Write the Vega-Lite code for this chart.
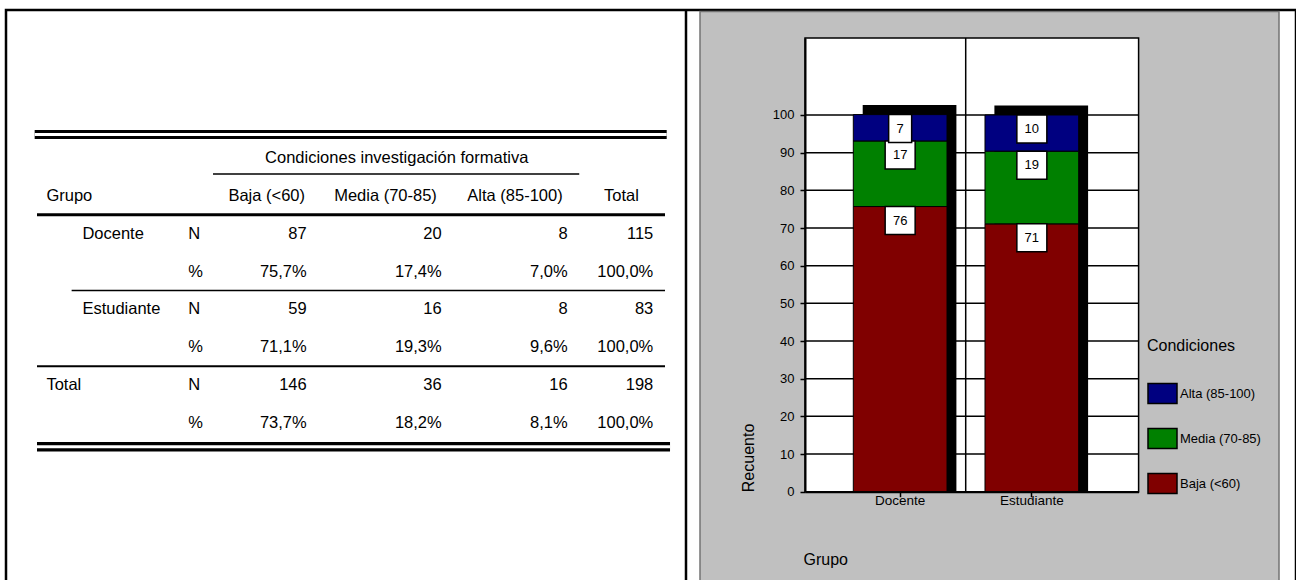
{
  "$schema": "https://vega.github.io/schema/vega-lite/v6.json",
  "background": "white",
  "autosize": {"type": "none"},
  "padding": {"left": 6, "top": 10, "right": 0, "bottom": 0},
  "width": 1290,
  "height": 570,
  "config": {"font": "Liberation Sans", "view": {"stroke": null}},
  "view": {"stroke": "black", "strokeWidth": 2.5, "strokeDash": [1860, 1290, 570]},
  "datasets": {
    "tabla": [
      {"fila": "Encabezado", "columna": "Grupo", "tipo": "etiqueta", "texto": "Grupo"},
      {"fila": "Total N", "columna": "Grupo", "tipo": "etiqueta", "texto": "Total"},
      {"fila": "Docente N", "columna": "Subgrupo", "tipo": "etiqueta", "texto": "Docente"},
      {"fila": "Estudiante N", "columna": "Subgrupo", "tipo": "etiqueta", "texto": "Estudiante"},
      {"fila": "Docente N", "columna": "Estadistico", "tipo": "etiqueta", "texto": "N"},
      {"fila": "Docente %", "columna": "Estadistico", "tipo": "etiqueta", "texto": "%"},
      {"fila": "Estudiante N", "columna": "Estadistico", "tipo": "etiqueta", "texto": "N"},
      {"fila": "Estudiante %", "columna": "Estadistico", "tipo": "etiqueta", "texto": "%"},
      {"fila": "Total N", "columna": "Estadistico", "tipo": "etiqueta", "texto": "N"},
      {"fila": "Total %", "columna": "Estadistico", "tipo": "etiqueta", "texto": "%"},
      {"fila": "Encabezado", "columna": "Baja", "tipo": "encabezado", "texto": "Baja (<60)"},
      {"fila": "Docente N", "columna": "Baja", "tipo": "valor", "texto": "87"},
      {"fila": "Docente %", "columna": "Baja", "tipo": "valor", "texto": "75,7%"},
      {"fila": "Estudiante N", "columna": "Baja", "tipo": "valor", "texto": "59"},
      {"fila": "Estudiante %", "columna": "Baja", "tipo": "valor", "texto": "71,1%"},
      {"fila": "Total N", "columna": "Baja", "tipo": "valor", "texto": "146"},
      {"fila": "Total %", "columna": "Baja", "tipo": "valor", "texto": "73,7%"},
      {"fila": "Condiciones", "columna": "Media", "tipo": "titulo", "texto": "Condiciones investigación formativa"},
      {"fila": "Encabezado", "columna": "Media", "tipo": "encabezado", "texto": "Media (70-85)"},
      {"fila": "Docente N", "columna": "Media", "tipo": "valor", "texto": "20"},
      {"fila": "Docente %", "columna": "Media", "tipo": "valor", "texto": "17,4%"},
      {"fila": "Estudiante N", "columna": "Media", "tipo": "valor", "texto": "16"},
      {"fila": "Estudiante %", "columna": "Media", "tipo": "valor", "texto": "19,3%"},
      {"fila": "Total N", "columna": "Media", "tipo": "valor", "texto": "36"},
      {"fila": "Total %", "columna": "Media", "tipo": "valor", "texto": "18,2%"},
      {"fila": "Encabezado", "columna": "Alta", "tipo": "encabezado", "texto": "Alta (85-100)"},
      {"fila": "Docente N", "columna": "Alta", "tipo": "valor", "texto": "8"},
      {"fila": "Docente %", "columna": "Alta", "tipo": "valor", "texto": "7,0%"},
      {"fila": "Estudiante N", "columna": "Alta", "tipo": "valor", "texto": "8"},
      {"fila": "Estudiante %", "columna": "Alta", "tipo": "valor", "texto": "9,6%"},
      {"fila": "Total N", "columna": "Alta", "tipo": "valor", "texto": "16"},
      {"fila": "Total %", "columna": "Alta", "tipo": "valor", "texto": "8,1%"},
      {"fila": "Encabezado", "columna": "Total", "tipo": "encabezado", "texto": "Total"},
      {"fila": "Docente N", "columna": "Total", "tipo": "valor", "texto": "115"},
      {"fila": "Docente %", "columna": "Total", "tipo": "valor", "texto": "100,0%"},
      {"fila": "Estudiante N", "columna": "Total", "tipo": "valor", "texto": "83"},
      {"fila": "Estudiante %", "columna": "Total", "tipo": "valor", "texto": "100,0%"},
      {"fila": "Total N", "columna": "Total", "tipo": "valor", "texto": "198"},
      {"fila": "Total %", "columna": "Total", "tipo": "valor", "texto": "100,0%"}
    ],
    "condiciones": [
      {"Grupo": "Docente", "Condiciones": "Baja (<60)", "nivel": 1, "porcentaje": 75.7, "etiqueta": 76},
      {"Grupo": "Docente", "Condiciones": "Media (70-85)", "nivel": 2, "porcentaje": 17.4, "etiqueta": 17},
      {"Grupo": "Docente", "Condiciones": "Alta (85-100)", "nivel": 3, "porcentaje": 7.0, "etiqueta": 7},
      {"Grupo": "Estudiante", "Condiciones": "Baja (<60)", "nivel": 1, "porcentaje": 71.1, "etiqueta": 71},
      {"Grupo": "Estudiante", "Condiciones": "Media (70-85)", "nivel": 2, "porcentaje": 19.3, "etiqueta": 19},
      {"Grupo": "Estudiante", "Condiciones": "Alta (85-100)", "nivel": 3, "porcentaje": 9.6, "etiqueta": 10}
    ],
    "marcas": [
      {"recuento": 10}, {"recuento": 20}, {"recuento": 30}, {"recuento": 40}, {"recuento": 50},
      {"recuento": 60}, {"recuento": 70}, {"recuento": 80}, {"recuento": 90}, {"recuento": 100}
    ]
  },
  "resolve": {"scale": {"x": "independent", "y": "independent"}},
  "layer": [
    {
      "layer": [
        {"data": {"values": [{}]}, "mark": {"type": "rule", "color": "black", "strokeWidth": 9},
         "encoding": {"x": {"datum": "Grupo", "bandPosition": -0.026, "axis": null, "scale": {"type": "band", "domain": ["Grupo", "Subgrupo", "Estadistico", "Baja", "Media", "Alta", "Total"], "range": [31, 659], "paddingInner": 0, "paddingOuter": 0, "round": false}}, "x2": {"datum": "Total", "bandPosition": 1.019}, "y": {"datum": -0.1215, "axis": null, "scale": {"domain": [0, 8], "range": [129.1, 432], "nice": false, "zero": false}}}},
        {"data": {"values": [{}]}, "mark": {"type": "rule", "color": "white", "strokeWidth": 3},
         "encoding": {"x": {"datum": "Grupo", "bandPosition": -0.026, "axis": null}, "x2": {"datum": "Total", "bandPosition": 1.019}, "y": {"datum": -0.1215, "axis": null}}},
        {"data": {"values": [{}]}, "mark": {"type": "rule", "color": "black", "strokeWidth": 1.5},
         "encoding": {"x": {"datum": "Estadistico", "bandPosition": -0.038, "axis": null}, "x2": {"datum": "Alta", "bandPosition": 1.044}, "y": {"datum": 0.921, "axis": null}}},
        {"data": {"values": [{}]}, "mark": {"type": "rule", "color": "black", "strokeWidth": 3},
         "encoding": {"x": {"datum": "Grupo", "bandPosition": 0, "axis": null}, "x2": {"datum": "Total", "bandPosition": 1}, "y": {"datum": 2, "axis": null}}},
        {"data": {"values": [{}]}, "mark": {"type": "rule", "color": "black", "strokeWidth": 1.5},
         "encoding": {"x": {"datum": "Subgrupo", "bandPosition": -0.614, "axis": null}, "x2": {"datum": "Total", "bandPosition": 1}, "y": {"datum": 4, "axis": null}}},
        {"data": {"values": [{}]}, "mark": {"type": "rule", "color": "black", "strokeWidth": 2},
         "encoding": {"x": {"datum": "Grupo", "bandPosition": 0, "axis": null}, "x2": {"datum": "Total", "bandPosition": 1}, "y": {"datum": 6, "axis": null}}},
        {"data": {"values": [{}]}, "mark": {"type": "rule", "color": "black", "strokeWidth": 9.5},
         "encoding": {"x": {"datum": "Grupo", "bandPosition": 0, "axis": null}, "x2": {"datum": "Total", "bandPosition": 1.056}, "y": {"datum": 8.127, "axis": null}}},
        {"data": {"values": [{}]}, "mark": {"type": "rule", "color": "white", "strokeWidth": 3},
         "encoding": {"x": {"datum": "Grupo", "bandPosition": 0, "axis": null}, "x2": {"datum": "Total", "bandPosition": 1.056}, "y": {"datum": 8.127, "axis": null}}}
      ]
    },
    {
      "data": {"name": "tabla"},
      "transform": [{"filter": {"field": "columna", "equal": "Grupo"}}],
      "mark": {"type": "text", "align": "left", "dx": -8.1, "fontSize": 16.5, "baseline": "middle"},
      "encoding": {
        "x": {"field": "columna", "type": "nominal", "axis": null, "scale": {"type": "band", "domain": ["Grupo"], "range": [31, 66], "paddingInner": 0, "paddingOuter": 0}},
        "y": {"field": "fila", "type": "nominal", "axis": null, "scale": {"type": "band", "domain": ["Condiciones", "Encabezado", "Docente N", "Docente %", "Estudiante N", "Estudiante %", "Total N", "Total %"], "range": [129.1, 432], "paddingInner": 0, "paddingOuter": 0}},
        "text": {"field": "texto"}
      }
    },
    {
      "data": {"name": "tabla"},
      "transform": [{"filter": {"field": "columna", "equal": "Subgrupo"}}],
      "mark": {"type": "text", "align": "left", "dx": -43.6, "fontSize": 16.5, "baseline": "middle"},
      "encoding": {
        "x": {"field": "columna", "type": "nominal", "axis": null, "scale": {"type": "band", "domain": ["Subgrupo"], "range": [66, 174], "paddingInner": 0, "paddingOuter": 0}},
        "y": {"field": "fila", "type": "nominal", "axis": null, "scale": {"type": "band", "domain": ["Condiciones", "Encabezado", "Docente N", "Docente %", "Estudiante N", "Estudiante %", "Total N", "Total %"], "range": [129.1, 432], "paddingInner": 0, "paddingOuter": 0}},
        "text": {"field": "texto"}
      }
    },
    {
      "data": {"name": "tabla"},
      "transform": [{"filter": {"field": "columna", "equal": "Estadistico"}}],
      "mark": {"type": "text", "align": "left", "dx": -8.2, "fontSize": 16.5, "baseline": "middle"},
      "encoding": {
        "x": {"field": "columna", "type": "nominal", "axis": null, "scale": {"type": "band", "domain": ["Estadistico"], "range": [174, 207], "paddingInner": 0, "paddingOuter": 0}},
        "y": {"field": "fila", "type": "nominal", "axis": null, "scale": {"type": "band", "domain": ["Condiciones", "Encabezado", "Docente N", "Docente %", "Estudiante N", "Estudiante %", "Total N", "Total %"], "range": [129.1, 432], "paddingInner": 0, "paddingOuter": 0}},
        "text": {"field": "texto"}
      }
    },
    {
      "data": {"name": "tabla"},
      "transform": [{"filter": {"field": "columna", "equal": "Baja"}}],
      "encoding": {
        "x": {"field": "columna", "type": "nominal", "axis": null, "scale": {"type": "band", "domain": ["Baja"], "range": [207, 311], "paddingInner": 0, "paddingOuter": 0}},
        "y": {"field": "fila", "type": "nominal", "axis": null, "scale": {"type": "band", "domain": ["Condiciones", "Encabezado", "Docente N", "Docente %", "Estudiante N", "Estudiante %", "Total N", "Total %"], "range": [129.1, 432], "paddingInner": 0, "paddingOuter": 0}},
        "text": {"field": "texto"}
      },
      "layer": [
        {"transform": [{"filter": {"field": "tipo", "equal": "encabezado"}}], "mark": {"type": "text", "align": "center", "dx": 1.7, "fontSize": 16.5, "baseline": "middle"}},
        {"transform": [{"filter": {"field": "tipo", "equal": "valor"}}], "mark": {"type": "text", "align": "right", "dx": 41.7, "fontSize": 16.5, "baseline": "middle"}}
      ]
    },
    {
      "data": {"name": "tabla"},
      "transform": [{"filter": {"field": "columna", "equal": "Media"}}],
      "encoding": {
        "x": {"field": "columna", "type": "nominal", "axis": null, "scale": {"type": "band", "domain": ["Media"], "range": [311, 446], "paddingInner": 0, "paddingOuter": 0}},
        "y": {"field": "fila", "type": "nominal", "axis": null, "scale": {"type": "band", "domain": ["Condiciones", "Encabezado", "Docente N", "Docente %", "Estudiante N", "Estudiante %", "Total N", "Total %"], "range": [129.1, 432], "paddingInner": 0, "paddingOuter": 0}},
        "text": {"field": "texto"}
      },
      "layer": [
        {"transform": [{"filter": {"field": "tipo", "equal": "titulo"}}], "mark": {"type": "text", "align": "center", "dx": 12.2, "fontSize": 16.5, "baseline": "middle"}},
        {"transform": [{"filter": {"field": "tipo", "equal": "encabezado"}}], "mark": {"type": "text", "align": "center", "dx": 1, "fontSize": 16.5, "baseline": "middle"}},
        {"transform": [{"filter": {"field": "tipo", "equal": "valor"}}], "mark": {"type": "text", "align": "right", "dx": 57.2, "fontSize": 16.5, "baseline": "middle"}}
      ]
    },
    {
      "data": {"name": "tabla"},
      "transform": [{"filter": {"field": "columna", "equal": "Alta"}}],
      "encoding": {
        "x": {"field": "columna", "type": "nominal", "axis": null, "scale": {"type": "band", "domain": ["Alta"], "range": [446, 572], "paddingInner": 0, "paddingOuter": 0}},
        "y": {"field": "fila", "type": "nominal", "axis": null, "scale": {"type": "band", "domain": ["Condiciones", "Encabezado", "Docente N", "Docente %", "Estudiante N", "Estudiante %", "Total N", "Total %"], "range": [129.1, 432], "paddingInner": 0, "paddingOuter": 0}},
        "text": {"field": "texto"}
      },
      "layer": [
        {"transform": [{"filter": {"field": "tipo", "equal": "encabezado"}}], "mark": {"type": "text", "align": "center", "fontSize": 16.5, "baseline": "middle"}},
        {"transform": [{"filter": {"field": "tipo", "equal": "valor"}}], "mark": {"type": "text", "align": "right", "dx": 52.7, "fontSize": 16.5, "baseline": "middle"}}
      ]
    },
    {
      "data": {"name": "tabla"},
      "transform": [{"filter": {"field": "columna", "equal": "Total"}}],
      "encoding": {
        "x": {"field": "columna", "type": "nominal", "axis": null, "scale": {"type": "band", "domain": ["Total"], "range": [572, 659], "paddingInner": 0, "paddingOuter": 0}},
        "y": {"field": "fila", "type": "nominal", "axis": null, "scale": {"type": "band", "domain": ["Condiciones", "Encabezado", "Docente N", "Docente %", "Estudiante N", "Estudiante %", "Total N", "Total %"], "range": [129.1, 432], "paddingInner": 0, "paddingOuter": 0}},
        "text": {"field": "texto"}
      },
      "layer": [
        {"transform": [{"filter": {"field": "tipo", "equal": "encabezado"}}], "mark": {"type": "text", "align": "center", "fontSize": 16.5, "baseline": "middle"}},
        {"transform": [{"filter": {"field": "tipo", "equal": "valor"}}], "mark": {"type": "text", "align": "right", "dx": 31.8, "fontSize": 16.5, "baseline": "middle"}}
      ]
    },
    {
      "layer": [
        {
          "data": {"values": [{}]},
          "mark": {"type": "rect", "fill": "#c0c0c0", "stroke": "#737373", "strokeWidth": 1.5},
          "encoding": {
            "x": {"datum": "Docente", "bandPosition": -1.636},
            "x2": {"datum": "Estudiante", "bandPosition": 3.1377},
            "y": {"datum": 127.5},
            "y2": {"datum": -24}
          }
        },
        {
          "data": {"values": [{}]},
          "mark": {"type": "rule", "color": "black", "strokeWidth": 2.5},
          "encoding": {
            "x": {"datum": "Docente", "bandPosition": -1.7855},
            "y": {"datum": 128},
            "y2": {"datum": -24}
          }
        },
        {
          "data": {"values": [{}]},
          "mark": {"type": "rect", "fill": "white", "stroke": "black", "strokeWidth": 1.5},
          "encoding": {
            "x": {"datum": "Docente", "bandPosition": -0.5155},
            "x2": {"datum": "Estudiante", "bandPosition": 1.6393},
            "y": {"datum": 120.44},
            "y2": {"datum": 0}
          }
        },
        {
          "data": {"name": "marcas"},
          "mark": {"type": "rule", "color": "black", "strokeWidth": 1.5},
          "encoding": {
            "x": {"datum": "Docente", "bandPosition": -0.5155},
            "x2": {"datum": "Estudiante", "bandPosition": 1.6393},
            "y": {"field": "recuento", "type": "quantitative"}
          }
        },
        {
          "data": {"values": [{}]},
          "mark": {"type": "rule", "color": "black", "strokeWidth": 1.5},
          "encoding": {
            "x": {"datum": "Docente", "bandPosition": 1.1996},
            "y": {"datum": 0},
            "y2": {"datum": 120.44}
          }
        },
        {
          "data": {"name": "condiciones"},
          "mark": {"type": "bar", "color": "black", "xOffset": 9.4, "yOffset": -9.5, "y2Offset": -9.5},
          "encoding": {
            "x": {"field": "Grupo", "type": "nominal"},
            "y": {"aggregate": "sum", "field": "porcentaje", "type": "quantitative"}
          }
        },
        {
          "data": {"name": "condiciones"},
          "transform": [{"stack": "porcentaje", "groupby": ["Grupo"], "sort": [{"field": "nivel", "order": "ascending"}], "as": ["pct_ini", "pct_fin"]}],
          "mark": {"type": "bar", "stroke": "black", "strokeWidth": 1},
          "encoding": {
            "x": {
              "field": "Grupo", "type": "nominal",
              "scale": {"type": "band", "domain": ["Docente", "Estudiante"], "range": [799, 1132.6], "paddingInner": 0.2885, "paddingOuter": 0.4108, "align": 0.4464, "round": false},
              "axis": {
                "title": "Grupo", "orient": "bottom", "offset": -88.3, "zindex": 1, "labelAngle": 0, "labelAlign": "center",
                "labelFontSize": 13.5, "labelColor": "black", "labelPadding": 4,
                "tickSize": 5, "tickWidth": 1.5, "tickColor": "black",
                "domainColor": "black", "domainWidth": 2, "grid": false,
                "titleFontSize": 16, "titleFontWeight": "normal", "titleColor": "black",
                "titleX": 797, "titleY": 60, "titleAlign": "left", "titleBaseline": "top"
              }
            },
            "y": {
              "field": "pct_ini", "type": "quantitative",
              "scale": {"domain": [0, 120.44], "range": [481.7, 28], "nice": false, "zero": false},
              "axis": {
                "title": "Recuento", "orient": "left", "offset": -799, "zindex": 1,
                "values": [0, 10, 20, 30, 40, 50, 60, 70, 80, 90, 100],
                "labelFontSize": 13, "labelColor": "black", "labelPadding": 6, "labelFlush": false,
                "tickSize": 5, "tickWidth": 1.5, "tickColor": "black",
                "domainColor": "black", "domainWidth": 2, "grid": false,
                "titleFontSize": 16, "titleFontWeight": "normal", "titleColor": "black",
                "titleX": -49, "titleY": 481.7, "titleAngle": -90, "titleAlign": "left", "titleBaseline": "bottom"
              }
            },
            "y2": {"field": "pct_fin"},
            "color": {
              "field": "Condiciones", "type": "nominal",
              "scale": {"domain": ["Alta (85-100)", "Media (70-85)", "Baja (<60)"], "range": ["#000080", "#008000", "#800000"]},
              "legend": {
                "title": "Condiciones", "orient": "none", "legendX": 1141, "legendY": 328,
                "symbolType": "M-1,-0.69H1V0.69H-1Z", "symbolSize": 841,
                "symbolStrokeColor": "black", "symbolStrokeWidth": 1.5, "symbolOpacity": 1,
                "labelFontSize": 13, "labelOffset": 2, "labelColor": "black",
                "titleFontSize": 16, "titleFontWeight": "normal", "titleColor": "black",
                "titlePadding": 24, "rowPadding": 16, "padding": 0
              }
            }
          }
        },
        {
          "data": {"name": "condiciones"},
          "transform": [{"stack": "porcentaje", "groupby": ["Grupo"], "sort": [{"field": "nivel", "order": "ascending"}], "as": ["pct_ini", "pct_fin"]}],
          "mark": {"type": "bar", "fill": "white", "stroke": "black", "strokeWidth": 1.5, "y2Offset": 28},
          "encoding": {
            "x": {"field": "Grupo", "type": "nominal"},
            "y": {"field": "pct_fin", "type": "quantitative"},
            "y2": {"field": "pct_fin"},
            "size": {"condition": {"test": "datum.etiqueta < 10", "value": 23}, "value": 30}
          }
        },
        {
          "data": {"name": "condiciones"},
          "transform": [{"stack": "porcentaje", "groupby": ["Grupo"], "sort": [{"field": "nivel", "order": "ascending"}], "as": ["pct_ini", "pct_fin"]}],
          "mark": {"type": "text", "fontSize": 13, "dy": 14, "baseline": "middle", "color": "black"},
          "encoding": {
            "x": {"field": "Grupo", "type": "nominal"},
            "y": {"field": "pct_fin", "type": "quantitative"},
            "text": {"field": "etiqueta"}
          }
        }
      ]
    }
  ]
}
